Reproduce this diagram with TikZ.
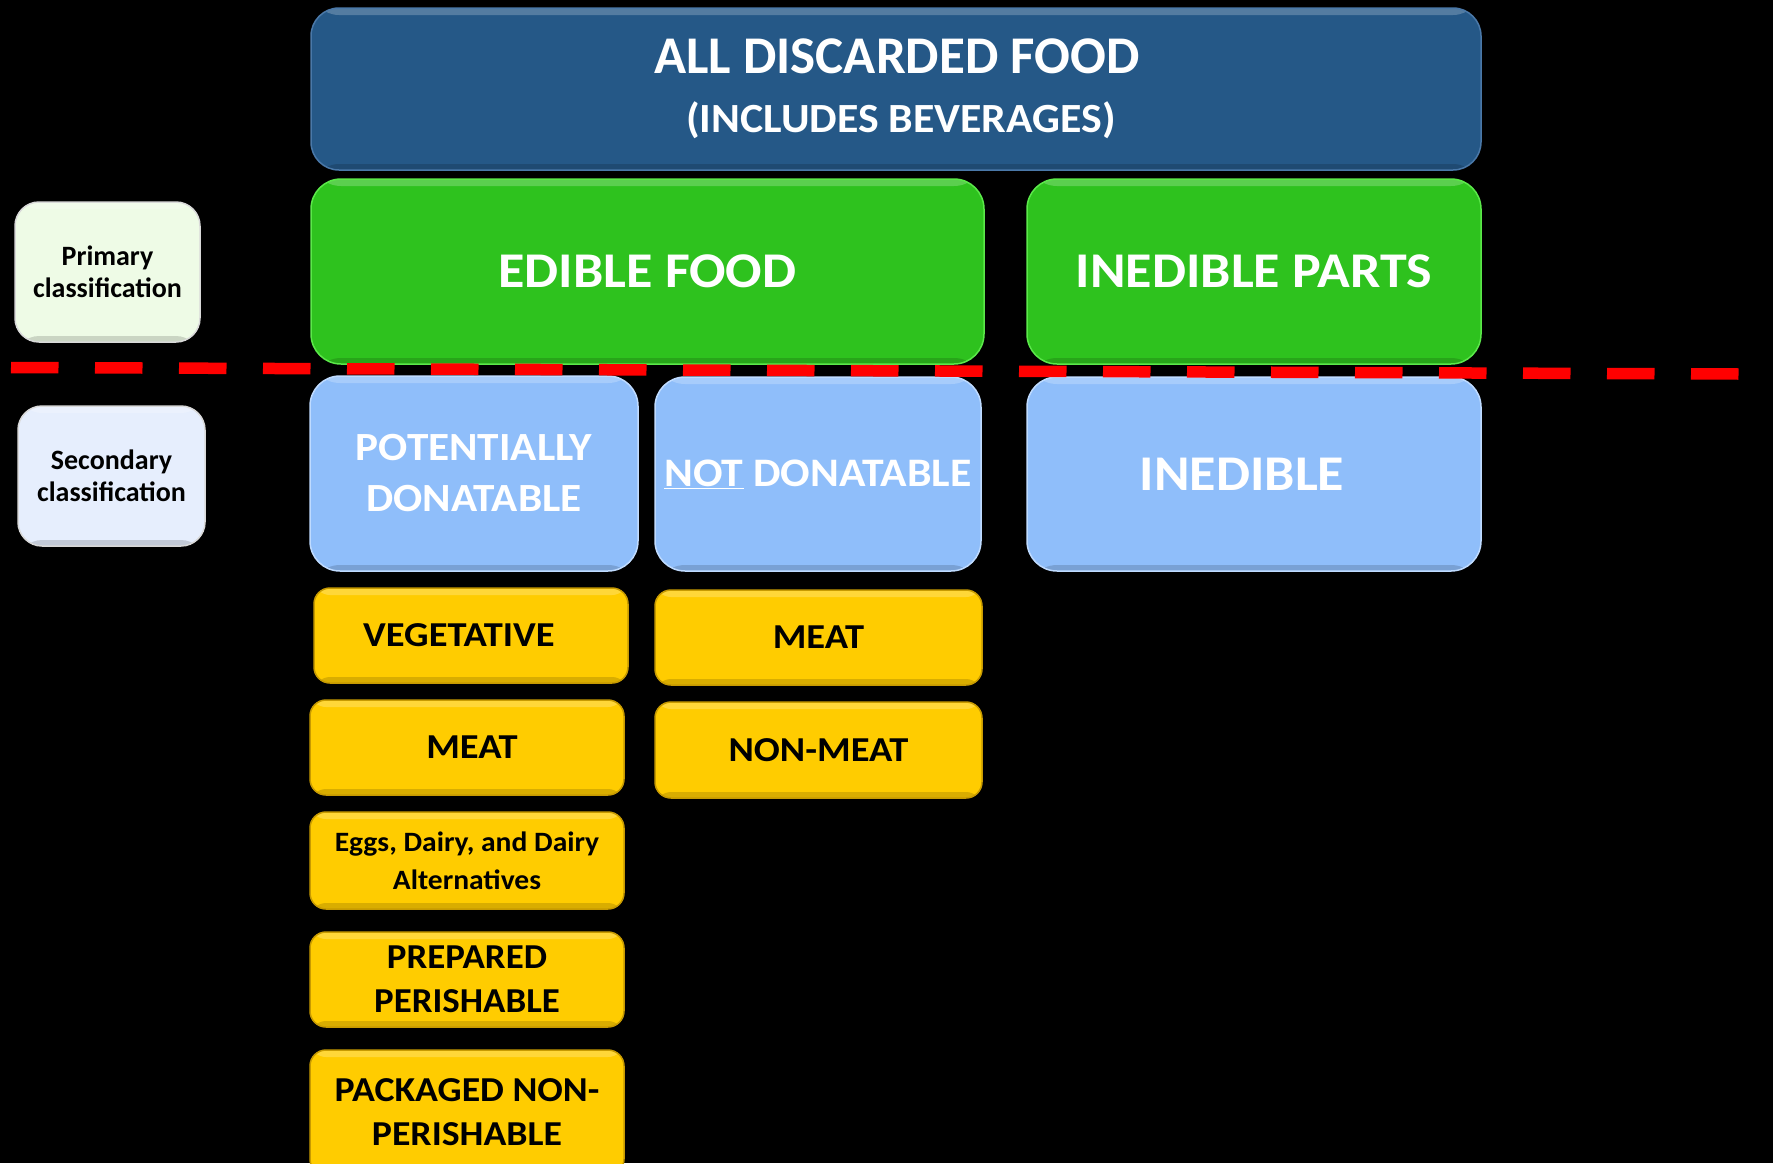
\documentclass[tikz,border=0pt]{standalone}
\usepackage{fontspec}
\setmainfont{Carlito}
\newfontfamily\cfS[FakeStretch=1.055]{Carlito}
\newfontfamily\cfM[FakeStretch=1.08]{Carlito}
\newfontfamily\cfL[FakeStretch=1.10]{Carlito}
\definecolor{topblue}{HTML}{255887}
\definecolor{topblueedge}{HTML}{4A78A8}
\definecolor{grn}{HTML}{2EC21E}
\definecolor{grnedge}{HTML}{5BE84A}
\definecolor{lblue}{HTML}{8FBEFA}
\definecolor{lblueedge}{HTML}{BFDBFF}
\definecolor{yel}{HTML}{FFCC00}
\definecolor{yeledge}{HTML}{C79A00}
\definecolor{prifill}{HTML}{EEFBE6}
\definecolor{secfill}{HTML}{E6EEFD}
\tikzset{
  box/.style={rectangle, inner sep=0pt, align=center, font=\bfseries,
    path picture={
      \fill[white,opacity=0.22] (path picture bounding box.north west) rectangle ([yshift=-7pt]path picture bounding box.north east);
      \fill[black,opacity=0.15] (path picture bounding box.south west) rectangle ([yshift=6pt]path picture bounding box.south east);
    }},
  topbox/.style={box, rounded corners=28pt, fill=topblue, draw=topblueedge, line width=1.5pt},
  greenbox/.style={box, rounded corners=30pt, fill=grn, draw=grnedge, line width=1.5pt, text=white},
  bluebox/.style={box, rounded corners=30pt, fill=lblue, draw=lblueedge, line width=1.5pt, text=white},
  yelbox/.style={box, rounded corners=16pt, fill=yel, draw=yeledge, line width=1.5pt, text=black},
  tagbox/.style={box, rounded corners=24pt, draw=white!70!gray, line width=1.5pt, text=black},
  sep/.style={draw=red, line width=11.5pt, dash pattern=on 47.5pt off 36.5pt}
}
\begin{document}
\begin{tikzpicture}[x=1pt,y=-1pt]
\fill[black] (0,0) rectangle (1773,1163);
\useasboundingbox (0,0) rectangle (1773,1163);

% top box
\node[topbox, minimum width=1170pt, minimum height=162pt] (all) at (896,89) {};
\node[anchor=base, text=white, font=\bfseries\fontsize{53}{60}\selectfont] (allt1) at (897,73) {ALL DISCARDED FOOD};
\node[anchor=base, text=white, font=\cfS\bfseries\fontsize{41.5}{45}\selectfont] (allt2) at (901,132) {(INCLUDES BEVERAGES)};

% primary
\node[greenbox, minimum width=673pt, minimum height=185pt, font=\cfM\bfseries\fontsize{50}{60}\selectfont] (edible) at (647.5,271.5) {EDIBLE FOOD};
\node[greenbox, minimum width=454pt, minimum height=185pt, font=\cfM\bfseries\fontsize{50}{60}\selectfont] (inedparts) at (1254,271.5) {INEDIBLE PARTS};

% secondary
\node[bluebox, minimum width=328pt, minimum height=195pt, font=\cfM\bfseries\fontsize{40}{51}\selectfont] (potdon) at (474,473.5) {POTENTIALLY\\DONATABLE};
\node[bluebox, minimum width=326pt, minimum height=194pt, font=\cfM\bfseries\fontsize{40.5}{51}\selectfont] (notdon) at (818,474) {\underline{NOT} DONATABLE};
\node[bluebox, minimum width=454pt, minimum height=194pt, font=\cfM\bfseries\fontsize{50}{60}\selectfont] (inedible) at (1254,474) {INEDIBLE\hspace*{24pt}};

% tags
\node[tagbox, fill=prifill, minimum width=185pt, minimum height=140pt, font=\bfseries\fontsize{28}{32}\selectfont] (primary) at (107.5,272) {Primary\\classification};
\node[tagbox, fill=secfill, minimum width=187pt, minimum height=140pt, font=\bfseries\fontsize{28}{32}\selectfont] (secondary) at (111.5,476) {Secondary\\classification};

% yellow boxes
\node[yelbox, minimum width=314pt, minimum height=95pt, font=\cfL\bfseries\fontsize{35}{44}\selectfont] (veg) at (471,635.5) {VEGETATIVE\hspace*{24pt}};
\node[yelbox, minimum width=314pt, minimum height=95pt, font=\cfL\bfseries\fontsize{35}{44}\selectfont] (meat1) at (467,747.5) {\hspace*{10pt}MEAT};
\node[yelbox, minimum width=314pt, minimum height=97pt, font=\cfS\bfseries\fontsize{28}{38}\selectfont] (eggs) at (467,860.5) {Eggs, Dairy, and Dairy\\Alternatives};
\node[yelbox, minimum width=314pt, minimum height=95pt, font=\cfS\bfseries\fontsize{35}{44}\selectfont] (prep) at (467,979.5) {PREPARED\\PERISHABLE};
\node[yelbox, minimum width=314pt, minimum height=125pt, font=\cfM\bfseries\fontsize{35}{44}\selectfont] (pack) at (467,1112.5) {PACKAGED NON-\\PERISHABLE};
\node[yelbox, minimum width=327pt, minimum height=95pt, font=\cfL\bfseries\fontsize{35}{44}\selectfont] (meat2) at (818.5,637.5) {MEAT};
\node[yelbox, minimum width=327pt, minimum height=96pt, font=\cfL\bfseries\fontsize{35}{44}\selectfont] (nonmeat) at (818.5,750) {NON-MEAT};

% separator
\coordinate (sepA) at (11,367.5);
\coordinate (sepB) at (1740,374);
\draw[sep] (sepA) -- (sepB);
\end{tikzpicture}
\end{document}
